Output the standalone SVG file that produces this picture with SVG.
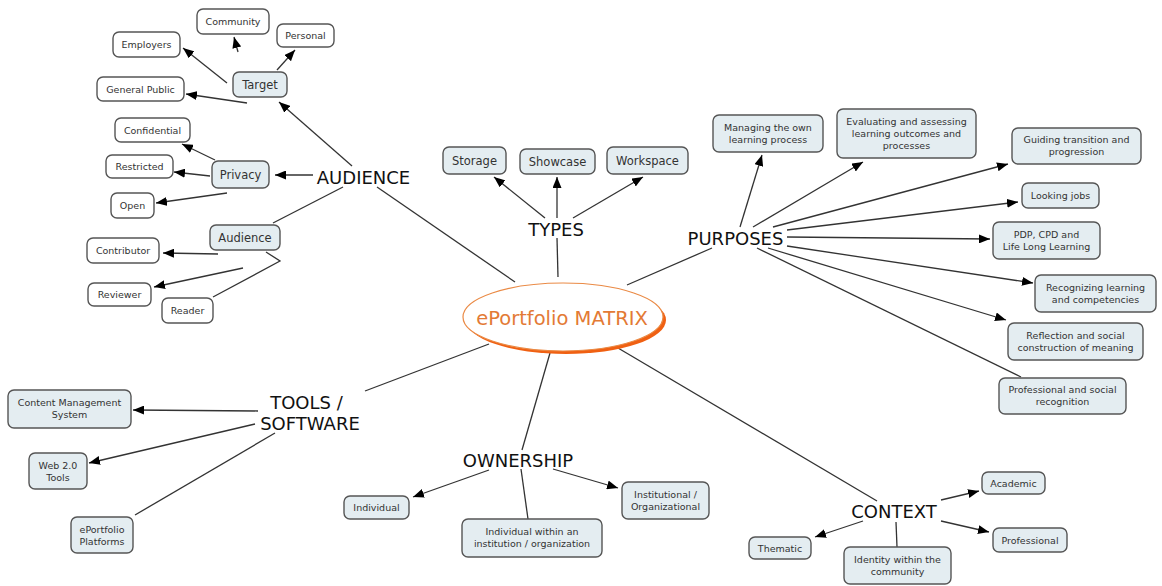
<svg xmlns="http://www.w3.org/2000/svg" width="1162" height="586" viewBox="0 0 1162 586">
<style>
.bx{fill:#e4edf1;stroke:#555;stroke-width:1.4}
.wb{fill:#fff;stroke:#555;stroke-width:1.4}
.t{font-family:"DejaVu Sans",Verdana,sans-serif;font-size:9.5px;fill:#333;text-anchor:middle;dominant-baseline:central}
.tm{font-family:"DejaVu Sans",Verdana,sans-serif;font-size:11.5px;fill:#333;text-anchor:middle;dominant-baseline:central}
.big{font-family:"DejaVu Sans",Verdana,sans-serif;font-size:18px;fill:#111;text-anchor:middle;dominant-baseline:central}
.c line,.c polyline{stroke:#333;stroke-width:1.3;fill:none}
.a{marker-end:url(#ah)}
</style>
<defs>
<marker id="ah" markerUnits="userSpaceOnUse" markerWidth="11" markerHeight="9" refX="11" refY="4.5" orient="auto">
<path d="M0,0 L11,4.5 L0,9 z" fill="#000"/>
</marker>
</defs>
<rect width="1162" height="586" fill="#fff"/>

<g id="connectors" class="c">
<line x1="515" y1="282" x2="377" y2="187"/>
<line x1="558" y1="277" x2="557" y2="238"/>
<line x1="627" y1="285" x2="712" y2="248"/>
<line x1="489" y1="344" x2="365" y2="391"/>
<line x1="550" y1="353" x2="522" y2="450"/>
<line x1="618" y1="348" x2="877" y2="501"/>

<line class="a" x1="352" y1="166" x2="279" y2="102"/>
<line class="a" x1="313" y1="175" x2="275" y2="175"/>
<line x1="343" y1="187" x2="273" y2="223"/>
<line class="a" x1="227" y1="83" x2="183" y2="48"/>
<line class="a" x1="238" y1="52" x2="234" y2="37"/>
<line class="a" x1="277" y1="70" x2="295" y2="50"/>
<line class="a" x1="247" y1="103" x2="186" y2="94"/>
<line class="a" x1="215" y1="160" x2="182" y2="144"/>
<line class="a" x1="210" y1="176" x2="174" y2="172"/>
<line class="a" x1="227" y1="193" x2="156" y2="203"/>
<line class="a" x1="218" y1="254" x2="163" y2="253"/>
<line class="a" x1="243" y1="268" x2="154" y2="287"/>
<polyline points="266,252 280,261 213,297"/>

<line class="a" x1="545" y1="218" x2="494" y2="177"/>
<line class="a" x1="557" y1="218" x2="557" y2="177"/>
<line class="a" x1="573" y1="218" x2="643" y2="177"/>

<line class="a" x1="740" y1="227" x2="762" y2="155"/>
<line class="a" x1="753" y1="227" x2="863" y2="162"/>
<line class="a" x1="773" y1="227" x2="1008" y2="164"/>
<line class="a" x1="787" y1="230" x2="1018" y2="202"/>
<line class="a" x1="787" y1="237" x2="990" y2="239"/>
<line class="a" x1="787" y1="246" x2="1033" y2="283"/>
<line class="a" x1="768" y1="248" x2="1006" y2="320"/>
<line x1="757" y1="248" x2="1021" y2="377"/>

<line class="a" x1="258" y1="411" x2="133" y2="410"/>
<line class="a" x1="255" y1="424" x2="89" y2="463"/>
<line x1="275" y1="433" x2="135" y2="515"/>

<line class="a" x1="489" y1="470" x2="413" y2="497"/>
<line x1="521" y1="469" x2="528" y2="519"/>
<line class="a" x1="553" y1="469" x2="618" y2="488"/>

<line class="a" x1="941" y1="500" x2="979" y2="491"/>
<line class="a" x1="941" y1="521" x2="989" y2="532"/>
<line class="a" x1="863" y1="521" x2="815" y2="537"/>
<line x1="896" y1="522" x2="897" y2="547"/>
</g>

<g id="root">
<ellipse cx="566" cy="320" rx="100" ry="34" fill="#f06012"/>
<ellipse cx="563" cy="317" rx="100" ry="34" fill="#fff" stroke="#ea8a45" stroke-width="1.2"/>
<text x="562" y="318" font-family="'DejaVu Sans',Verdana,sans-serif" font-size="19.5" fill="#e37a35" text-anchor="middle" dominant-baseline="central">ePortfolio MATRIX</text>
</g>

<g id="audience-hub"><text class="big" x="363.5" y="177">AUDIENCE</text></g>
<g id="types-hub"><text class="big" x="556" y="229">TYPES</text></g>
<g id="purposes-hub"><text class="big" x="735.5" y="238">PURPOSES</text></g>
<g id="tools-hub"><text class="big" x="306.5" y="402">TOOLS /</text><text class="big" x="310" y="423.5">SOFTWARE</text></g>
<g id="ownership-hub"><text class="big" x="518" y="460">OWNERSHIP</text></g>
<g id="context-hub"><text class="big" x="894" y="511">CONTEXT</text></g>

<g id="community"><rect class="wb" x="197" y="9" width="72" height="25" rx="6"/><text class="t" x="233" y="21.5">Community</text></g>
<g id="personal"><rect class="wb" x="277" y="24" width="57" height="23" rx="6"/><text class="t" x="305.5" y="35.5">Personal</text></g>
<g id="employers"><rect class="wb" x="113" y="32" width="67" height="25" rx="6"/><text class="t" x="146.5" y="44.5">Employers</text></g>
<g id="target"><rect class="bx" x="233" y="72" width="54" height="25" rx="6"/><text class="tm" x="260" y="84.5">Target</text></g>
<g id="general-public"><rect class="wb" x="97" y="77" width="87" height="24" rx="6"/><text class="t" x="140.5" y="89">General Public</text></g>
<g id="confidential"><rect class="wb" x="115" y="118" width="75" height="24" rx="6"/><text class="t" x="152.5" y="130">Confidential</text></g>
<g id="restricted"><rect class="wb" x="106" y="155" width="67" height="23" rx="6"/><text class="t" x="139.5" y="166.5">Restricted</text></g>
<g id="privacy"><rect class="bx" x="212" y="161" width="57" height="27" rx="6"/><text class="tm" x="240.5" y="174.5">Privacy</text></g>
<g id="open"><rect class="wb" x="111" y="193" width="43" height="25" rx="6"/><text class="t" x="132.5" y="205.5">Open</text></g>
<g id="audience"><rect class="bx" x="210" y="225" width="70" height="25" rx="6"/><text class="tm" x="245" y="237.5">Audience</text></g>
<g id="contributor"><rect class="wb" x="87" y="238" width="72" height="25" rx="6"/><text class="t" x="123" y="250.5">Contributor</text></g>
<g id="reviewer"><rect class="wb" x="88" y="283" width="63" height="23" rx="6"/><text class="t" x="119.5" y="294.5">Reviewer</text></g>
<g id="reader"><rect class="wb" x="162" y="298" width="51" height="25" rx="6"/><text class="t" x="187.5" y="310.5">Reader</text></g>

<g id="storage"><rect class="bx" x="443" y="147" width="63" height="27" rx="6"/><text class="tm" x="474.5" y="160.5">Storage</text></g>
<g id="showcase"><rect class="bx" x="520" y="149" width="75" height="25" rx="6"/><text class="tm" x="557.5" y="161.5">Showcase</text></g>
<g id="workspace"><rect class="bx" x="607" y="147" width="81" height="27" rx="6"/><text class="tm" x="647.5" y="160.5">Workspace</text></g>

<g id="managing"><rect class="bx" x="713" y="115" width="110" height="37" rx="6"/><text class="t" x="768" y="127">Managing the own</text><text class="t" x="768" y="139">learning process</text></g>
<g id="evaluating"><rect class="bx" x="837" y="109" width="139" height="49" rx="6"/><text class="t" x="906.5" y="121.5">Evaluating and assessing</text><text class="t" x="906.5" y="133.5">learning outcomes and</text><text class="t" x="906.5" y="145.5">processes</text></g>
<g id="guiding"><rect class="bx" x="1012" y="128" width="129" height="36" rx="6"/><text class="t" x="1076.5" y="139.5">Guiding transition and</text><text class="t" x="1076.5" y="151.5">progression</text></g>
<g id="looking-jobs"><rect class="bx" x="1022" y="183" width="77" height="25" rx="6"/><text class="t" x="1060.5" y="195.5">Looking jobs</text></g>
<g id="pdp"><rect class="bx" x="993" y="222" width="107" height="37" rx="6"/><text class="t" x="1046.5" y="234">PDP, CPD and</text><text class="t" x="1046.5" y="246">Life Long Learning</text></g>
<g id="recognizing"><rect class="bx" x="1035" y="275" width="121" height="37" rx="6"/><text class="t" x="1095.5" y="287">Recognizing learning</text><text class="t" x="1095.5" y="299">and competencies</text></g>
<g id="reflection"><rect class="bx" x="1008" y="323" width="135" height="37" rx="6"/><text class="t" x="1075.5" y="335.5">Reflection and social</text><text class="t" x="1075.5" y="347.5">construction of meaning</text></g>
<g id="prof-social"><rect class="bx" x="999" y="378" width="127" height="36" rx="6"/><text class="t" x="1062.5" y="389.5">Professional and social</text><text class="t" x="1062.5" y="401.5">recognition</text></g>

<g id="cms"><rect class="bx" x="8" y="390" width="123" height="38" rx="6"/><text class="t" x="69.5" y="402.5">Content Management</text><text class="t" x="69.5" y="414.5">System</text></g>
<g id="web20"><rect class="bx" x="29" y="453" width="58" height="36" rx="6"/><text class="t" x="58" y="465.5">Web 2.0</text><text class="t" x="58" y="477">Tools</text></g>
<g id="platforms"><rect class="bx" x="71" y="517" width="62" height="36" rx="6"/><text class="t" x="102" y="529.5">ePortfolio</text><text class="t" x="102" y="541">Platforms</text></g>

<g id="individual"><rect class="bx" x="344" y="496" width="65" height="23" rx="6"/><text class="t" x="376.5" y="507.5">Individual</text></g>
<g id="within"><rect class="bx" x="462" y="519" width="140" height="38" rx="6"/><text class="t" x="532" y="531.5">Individual within an</text><text class="t" x="532" y="543.5">institution / organization</text></g>
<g id="institutional"><rect class="bx" x="622" y="482" width="87" height="37" rx="6"/><text class="t" x="665.5" y="494">Institutional /</text><text class="t" x="665.5" y="506">Organizational</text></g>

<g id="academic"><rect class="bx" x="982" y="472" width="63" height="22" rx="6"/><text class="t" x="1013.5" y="483">Academic</text></g>
<g id="professional"><rect class="bx" x="993" y="528" width="74" height="24" rx="6"/><text class="t" x="1030" y="540">Professional</text></g>
<g id="thematic"><rect class="bx" x="749" y="537" width="62" height="22" rx="6"/><text class="t" x="780" y="548">Thematic</text></g>
<g id="identity"><rect class="bx" x="844" y="547" width="107" height="37" rx="6"/><text class="t" x="897.5" y="559">Identity within the</text><text class="t" x="897.5" y="571">community</text></g>
</svg>
